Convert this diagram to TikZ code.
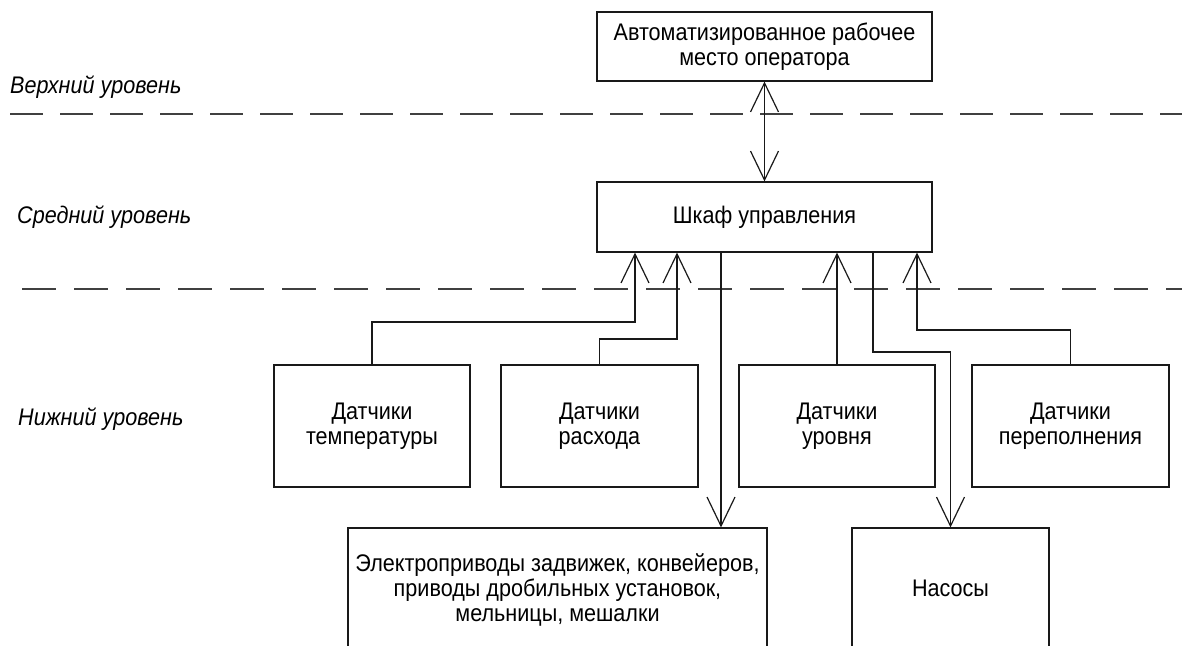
\documentclass[tikz,border=0pt]{standalone}
\usepackage{fontspec}
\setmainfont{Liberation Sans}[FakeStretch=0.9]
\usetikzlibrary{arrows.meta}

\begin{document}
\begin{tikzpicture}[x=1pt,y=-1pt,
  box/.style={draw=black!90, line width=1.2pt, inner sep=0pt, align=center,
    font=\fontsize{24}{25}\selectfont},
  lvl/.style={inner sep=0pt, font=\fontsize{24}{25}\selectfont\itshape},
  wire/.style={draw=black!90, line width=1.2pt},
  arr/.style={wire, -{Straight Barb[length=29pt,width=28pt]}},
  biarr/.style={wire, {Straight Barb[length=29pt,width=28pt]}-{Straight Barb[length=29pt,width=28pt]}},
  level/.style={draw=black!75, line width=1.3pt, dash pattern=on 33pt off 17pt}
]
\useasboundingbox (0,0) rectangle (1182,645);
\fill[white] (0,0) rectangle (1182,645);
\clip (0,0) rectangle (1182,645);

% level separators
\coordinate (d1a) at (10,114);  \coordinate (d1b) at (1182,114);
\coordinate (d2a) at (22,289);  \coordinate (d2b) at (1182,289);
\draw[level] (d1a) -- (d1b);
\draw[level, dash pattern=on 34pt off 18pt] (d2a) -- (d2b);

% level captions
\node[lvl, anchor=base west] (lvtop) at (10,93)  {Верхний уровень};
\node[lvl, anchor=base west] (lvmid) at (17,223) {Средний уровень};
\node[lvl, anchor=base west] (lvlow) at (18,425) {Нижний уровень};

% upper and middle level
\node[box, minimum width=335pt, minimum height=69pt] (arm) at (764.5,46.5)
  {Автоматизированное рабочее\\место оператора};
\node[box, minimum width=335pt, minimum height=70pt] (shkaf) at (764.5,217)
  {Шкаф управления};

% sensors
\node[box, minimum width=196pt, minimum height=122pt] (temp)  at (372,426)
  {Датчики\\температуры};
\node[box, minimum width=197pt, minimum height=122pt] (rash)  at (599.5,426)
  {Датчики\\расхода};
\node[box, minimum width=196pt, minimum height=122pt] (urov)  at (837,426)
  {Датчики\\уровня};
\node[box, minimum width=197pt, minimum height=122pt] (perep) at (1070.5,426)
  {Датчики\\переполнения};

% actuators
\node[box, minimum width=419pt, minimum height=124pt] (elec) at (557.5,590)
  {Электроприводы задвижек, конвейеров,\\приводы дробильных установок,\\мельницы, мешалки};
\node[box, minimum width=197pt, minimum height=120pt] (pumps) at (950.5,588)
  {Насосы};

% links
\draw[biarr] (arm.south) -- (shkaf.north);

\coordinate (t1) at (635,322);
\draw[arr] (temp.north) |- (t1) -- (t1 |- shkaf.south);
\coordinate (r1) at (677,339);
\draw[arr] (rash.north) |- (r1) -- (r1 |- shkaf.south);
\draw[arr] (urov.north) -- (urov.north |- shkaf.south);
\coordinate (p1) at (917,330);
\draw[arr] (perep.north) |- (p1) -- (p1 |- shkaf.south);

\coordinate (e1) at (721,300);
\draw[arr] (e1 |- shkaf.south) -- (e1 |- elec.north);
\coordinate (n1) at (873,352);
\draw[arr] (n1 |- shkaf.south) -- (n1) -| (pumps.north);
\end{tikzpicture}
\end{document}
